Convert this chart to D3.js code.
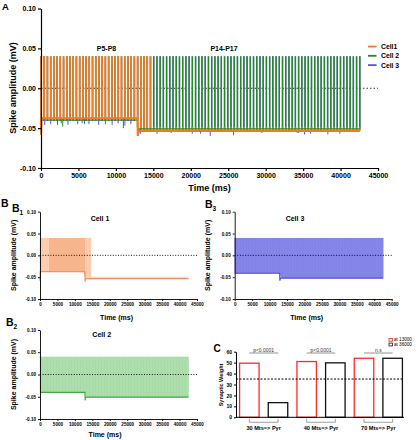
<!DOCTYPE html>
<html>
<head>
<meta charset="utf-8">
<script src="https://cdn.jsdelivr.net/npm/d3@7"></script>
<style>
body{margin:0;background:#fff}
svg{display:block;font-family:Arial,"Liberation Sans",sans-serif;font-weight:bold}
</style>
</head>
<body>
<svg width="419" height="440"></svg>
<script>
// ===== DATA =====
const cellNames = ["Cell1", "Cell 2", "Cell 3"]
const timeTicks = [0,5000,10000,15000,20000,25000,30000,35000,40000,45000]
const ampTicks = [-0.10,-0.05,0.00,0.05,0.10]

// spike times (ms), same train for all three cells
const spikeTimes = [
  0,430,860,1290,1720,2150,2580,3010,3440,3870,
  4300,4730,5160,5590,6020,6450,6880,7310,7740,8170,
  8600,9030,9460,9890,10320,10750,11180,11610,12040,12470,
  12900,13330,13760,14190,14620,15050,15480,15910,16340,16770,
  17200,17630,18060,18490,18920,19350,19780,20210,20640,21070,
  21500,21930,22360,22790,23220,23650,24080,24510,24940,25370,
  25800,26230,26660,27090,27520,27950,28380,28810,29240,29670,
  30100,30530,30960,31390,31820,32250,32680,33110,33540,33970,
  34400,34830,35260,35690,36120,36550,36980,37410,37840,38270,
  38700,39130,39560,39990,40420,40850,41280,41710,42140,42570
]
const spikeTop = 0.04
const cell1BigEnd = 15000      // cell 1 large spikes stop here
const cell1LateTop = -0.049     // small late spikes of cell 1
const cell1Burst = [2580, 12900]

// baselines [time, mV]
const base1 = [[0,-0.058],[80,-0.0375],[12880,-0.0375],[12920,-0.060],[13100,-0.0535],[42570,-0.0535]]
const base2 = [[0,-0.040],[12900,-0.040],[12950,-0.058],[13100,-0.051],[42570,-0.051]]
const base3 = [[0,-0.041],[12900,-0.041],[12950,-0.058],[13100,-0.052],[42570,-0.052]]

// downward deflections seen under the traces in A
const dips2 = [[2200,-0.046],[2900,-0.048],[5800,-0.045],[11000,-0.050],[29500,-0.056],[34200,-0.056],[40000,-0.055]]
const dips3 = [[500,-0.046],[1300,-0.045],[2700,-0.044],[3600,-0.046],[4900,-0.045],[5500,-0.044],[6400,-0.045],
  [7700,-0.046],[8600,-0.045],[9500,-0.046],[10300,-0.044],[11200,-0.047],[12000,-0.045],
  [13300,-0.057],[15500,-0.057],[17400,-0.056],[20200,-0.057],[21300,-0.057],[22600,-0.060],
  [25700,-0.059],[34400,-0.056],[35200,-0.058],[36000,-0.057],[38300,-0.058],[39900,-0.057]]

// panel C
const pairs = ["30 Mts=> Pyr","40 Mts=> Pyr","70 Mts=> Pyr"]
const seriesC = ["at 13000","at 36000"]
const weight13000 = [49.5, 51, 54]
const weight36000 = [13.4, 49.8, 54]
const pLabels = ["p<0.0001","p<0.0001","n.s"]
const weightTicks = [0,10,20,30,40,50,60]
const threshold = 35

const svg = d3.select("svg")
const FONT = "Arial, Liberation Sans, sans-serif"

// ===== HELPERS =====
function baseAt(base, t){
  for(let i=0;i<base.length-1;i++){
    if(t>=base[i][0] && t<=base[i+1][0]){
      const f = (t-base[i][0])/(base[i+1][0]-base[i][0] || 1)
      return base[i][1] + f*(base[i+1][1]-base[i][1])
    }
  }
  return base[base.length-1][1]
}

function styleAxis(g, fs, w){
  g.attr("font-size",fs).attr("font-family",FONT).attr("font-weight","bold")
  g.select(".domain").attr("stroke","#000").attr("stroke-width",w)
  g.selectAll(".tick line").attr("stroke","#000").attr("stroke-width",w)
  g.selectAll(".tick text").attr("fill","#000")
}

function txt(x,y,s,fs,anchor){
  return svg.append("text").attr("x",x).attr("y",y).attr("font-size",fs)
    .attr("text-anchor",anchor||"start").attr("fill","#000").text(s)
}

// ===== PANEL A =====
const xA = d3.scaleLinear().domain([0,45000]).range([41,378])
const yA = d3.scaleLinear().domain([-0.1,0.1]).range([168,8.5])

svg.append("line")
.attr("x1",xA(0)).attr("x2",xA(45000))
.attr("y1",yA(0)).attr("y2",yA(0))
.attr("stroke","#333").attr("stroke-width",1).attr("stroke-dasharray","1.5,2")

const colA = ["#f47a20","#238a23","#5858e0"]
const basesA = [base1, base2, base3]

// blue, then green spikes
;[2,1].forEach(c=>{
  svg.append("g").selectAll("line")
  .data(spikeTimes)
  .enter().append("line")
  .attr("x1",t=>xA(t)).attr("x2",t=>xA(t))
  .attr("y1",t=>yA(baseAt(basesA[c],t)))
  .attr("y2",yA(spikeTop))
  .attr("stroke",colA[c]).attr("stroke-width",1.4)
})

// orange spikes on top
svg.append("g").selectAll("line")
.data(spikeTimes)
.enter().append("line")
.attr("x1",t=>xA(t)).attr("x2",t=>xA(t))
.attr("y1",t=>yA(baseAt(base1,t)))
.attr("y2",t=>yA(t<cell1BigEnd ? spikeTop : cell1LateTop))
.attr("stroke",colA[0]).attr("stroke-width",1.7)

const lineA = d3.line().x(d=>xA(d[0])).y(d=>yA(d[1]))
svg.append("path").datum(base2).attr("d",lineA).attr("fill","none").attr("stroke",colA[1]).attr("stroke-width",1.2)
svg.append("path").datum(base1).attr("d",lineA).attr("fill","none").attr("stroke",colA[0]).attr("stroke-width",2)

;[[dips2,1],[dips3,2]].forEach(([dips,c])=>{
  svg.append("g").selectAll("line")
  .data(dips).enter().append("line")
  .attr("x1",d=>xA(d[0])).attr("x2",d=>xA(d[0]))
  .attr("y1",d=>yA(baseAt(base1,d[0]))+1)
  .attr("y2",d=>yA(d[1]))
  .attr("stroke",colA[c]).attr("stroke-width",1)
})

const gAy = svg.append("g").attr("transform","translate(41,0)")
.call(d3.axisLeft(yA).tickValues(ampTicks).tickFormat(d=>d.toFixed(2)).tickSize(3).tickSizeOuter(0).tickPadding(2))
styleAxis(gAy,7,1.2)
const gAx = svg.append("g").attr("transform","translate(0,168)")
.call(d3.axisBottom(xA).tickValues(timeTicks).tickFormat(d=>d).tickSize(3).tickSizeOuter(0).tickPadding(2))
styleAxis(gAx,7,1.2)

txt(2,10,"A",9.5)
svg.append("text").attr("transform","translate(16,88) rotate(-90)")
.attr("text-anchor","middle").attr("font-size",9).text("Spike amplitude (mV)")
txt(209.5,191,"Time (ms)",9,"middle")
txt(106.5,50.5,"P5-P8",7,"middle")
txt(224,50.5,"P14-P17",7,"middle")

// legend A
cellNames.forEach((n,i)=>{
  const ly = 46.5 + i*9.3
  svg.append("line").attr("x1",368).attr("x2",376.5).attr("y1",ly).attr("y2",ly)
  .attr("stroke",colA[i]).attr("stroke-width",1.8)
  txt(381,ly+2.4,n,6.8)
})

// ===== PANELS B =====
const panelsB = [
  {cell:0,label:"1",title:"Cell 1",x0:40,x1:197,yb:299,yt:211.7,tx:100,ty:220.5,
   light:"#fcd7bf",mid:"#f8b68c",line:"#f39160",timeX:116.5,timeY:319.5,labX:16,lx:12,ly:212},
  {cell:2,label:"3",title:"Cell 3",x0:234.7,x1:391.7,yb:299,yt:211.7,tx:295,ty:220.5,
   light:"#8d8deb",mid:"#6c6ce2",line:"#4c4cd4",timeX:306.7,timeY:319.5,labX:210,lx:205,ly:207.5},
  {cell:1,label:"2",title:"Cell 2",x0:40,x1:197,yb:419,yt:330,tx:101.7,ty:336.5,
   light:"#b5e2b5",mid:"#8fd08f",line:"#45a645",timeX:105,timeY:437,labX:16,lx:6,ly:326}
]
const basesB = [base1, base2, base3]

panelsB.forEach(p=>{
  const x = d3.scaleLinear().domain([0,45000]).range([p.x0,p.x1])
  const y = d3.scaleLinear().domain([-0.1,0.1]).range([p.yb,p.yt])
  const base = basesB[p.cell]

  const area = d3.area().x(t=>x(t)).y0(t=>y(baseAt(base,t))).y1(y(spikeTop))

  if(p.cell===0){
    const big = spikeTimes.filter(t=>t<cell1BigEnd)
    const late = spikeTimes.filter(t=>t>=12900)
    svg.append("path").datum(late)
    .attr("d",d3.area().x(t=>x(t)).y0(t=>y(baseAt(base,t))).y1(y(cell1LateTop)))
    .attr("fill",p.light)
    svg.append("path").datum(big).attr("d",area).attr("fill",p.light)
    const burst = spikeTimes.filter(t=>t>=cell1Burst[0] && t<=cell1Burst[1])
    svg.append("path").datum(burst).attr("d",area).attr("fill",p.mid)
    svg.append("g").selectAll("line").data(big).enter().append("line")
    .attr("x1",t=>x(t)).attr("x2",t=>x(t))
    .attr("y1",t=>y(baseAt(base,t))).attr("y2",y(spikeTop))
    .attr("stroke",p.mid).attr("stroke-width",0.7).attr("opacity",0.6)
  }else{
    svg.append("path").datum(spikeTimes).attr("d",area).attr("fill",p.light)
    svg.append("g").selectAll("line").data(spikeTimes).enter().append("line")
    .attr("x1",t=>x(t)).attr("x2",t=>x(t))
    .attr("y1",t=>y(baseAt(base,t))).attr("y2",y(spikeTop))
    .attr("stroke",p.mid).attr("stroke-width",0.7).attr("opacity",0.55)
  }

  svg.append("path").datum(base)
  .attr("d",d3.line().x(d=>x(d[0])).y(d=>y(d[1])))
  .attr("fill","none").attr("stroke",p.line).attr("stroke-width",1.2)

  svg.append("line")
  .attr("x1",x(0)).attr("x2",x(45000)).attr("y1",y(0)).attr("y2",y(0))
  .attr("stroke","#000").attr("stroke-width",0.9).attr("stroke-dasharray","1,1.6")

  const gy = svg.append("g").attr("transform",`translate(${p.x0},0)`)
  .call(d3.axisLeft(y).tickValues(ampTicks).tickFormat(d=>d.toFixed(2)).tickSize(2).tickSizeOuter(0).tickPadding(2))
  styleAxis(gy,4.6,0.9)
  const gx = svg.append("g").attr("transform",`translate(0,${p.yb})`)
  .call(d3.axisBottom(x).tickValues(timeTicks).tickFormat(d=>d).tickSize(2).tickSizeOuter(0).tickPadding(2))
  styleAxis(gx,4.6,0.9)

  txt(p.tx,p.ty,p.title,7,"middle")
  txt(p.timeX,p.timeY,"Time (ms)",7,"middle")
  svg.append("text").attr("transform",`translate(${p.labX},${(p.yb+p.yt)/2}) rotate(-90)`)
  .attr("text-anchor","middle").attr("font-size",7).text("Spike amplitude (mV)")

  const lab = txt(p.lx,p.ly,"B",10.5)
  lab.append("tspan").attr("font-size",6.5).attr("dy",3).text(p.label)
})
txt(1,207,"B",10.5)

// ===== PANEL C =====
const yC = d3.scaleLinear().domain([0,60]).range([417.3,351.7])
const x0C = d3.scaleBand().domain(pairs).range([235,407])
const x1C = d3.scaleBand().domain(seriesC).range([0,x0C.bandwidth()]).paddingInner(0.32).paddingOuter(0.16)
const colC = ["#ff2a2a","#111"]

const barsC = pairs.flatMap((g,i)=>[
  {g, s:seriesC[0], v:weight13000[i]},
  {g, s:seriesC[1], v:weight36000[i]}
])

svg.append("g").selectAll("rect").data(barsC).enter().append("rect")
.attr("x",d=>x0C(d.g)+x1C(d.s))
.attr("y",d=>yC(d.v))
.attr("width",x1C.bandwidth())
.attr("height",d=>yC(0)-yC(d.v))
.attr("fill","#fff")
.attr("stroke",d=>colC[seriesC.indexOf(d.s)])
.attr("stroke-width",1.3)

svg.append("line")
.attr("x1",236).attr("x2",404).attr("y1",yC(threshold)).attr("y2",yC(threshold))
.attr("stroke","#000").attr("stroke-width",1).attr("stroke-dasharray","2,1.5")

const gCy = svg.append("g").attr("transform","translate(236,0)")
.call(d3.axisLeft(yC).tickValues(weightTicks).tickSize(2).tickSizeOuter(0).tickPadding(2))
styleAxis(gCy,5,1)
svg.append("line").attr("x1",236).attr("x2",404).attr("y1",yC(0)).attr("y2",yC(0))
.attr("stroke","#000").attr("stroke-width",1)

// brackets + labels
pairs.forEach((g,i)=>{
  const a = x0C(g)+x1C(seriesC[0])+x1C.bandwidth()/2
  const b = x0C(g)+x1C(seriesC[1])+x1C.bandwidth()/2
  const top = yC(58.8)
  svg.append("line").attr("x1",a).attr("x2",b).attr("y1",top).attr("y2",top)
  .attr("stroke","#777").attr("stroke-width",0.8)
  svg.append("text").attr("x",(a+b)/2).attr("y",top-1.5).attr("text-anchor","middle")
  .attr("font-size",5).attr("font-weight","normal").attr("fill","#333").text(pLabels[i])
  const yb = yC(0)
  svg.append("path")
  .attr("d",`M${a},${yb+1.5}V${yb+5}H${b}V${yb+1.5}`)
  .attr("fill","none").attr("stroke","#888").attr("stroke-width",0.8)
  txt((a+b)/2,yb+13,g,5.6,"middle")
})

txt(213.5,351.5,"C",10)
svg.append("text").attr("transform",`translate(223,385) rotate(-90)`)
.attr("text-anchor","middle").attr("font-size",5.5).text("Synaptic Weight")

seriesC.forEach((s,i)=>{
  const ly = 338.5 + i*4.6
  svg.append("rect").attr("x",389).attr("y",ly).attr("width",3.5).attr("height",2.8)
  .attr("fill","#fff").attr("stroke",colC[i]).attr("stroke-width",0.8)
  svg.append("text").attr("x",394).attr("y",ly+2.8).attr("font-size",4.6)
  .attr("font-weight","normal").attr("fill","#000").text(s)
})
</script>
</body>
</html>
